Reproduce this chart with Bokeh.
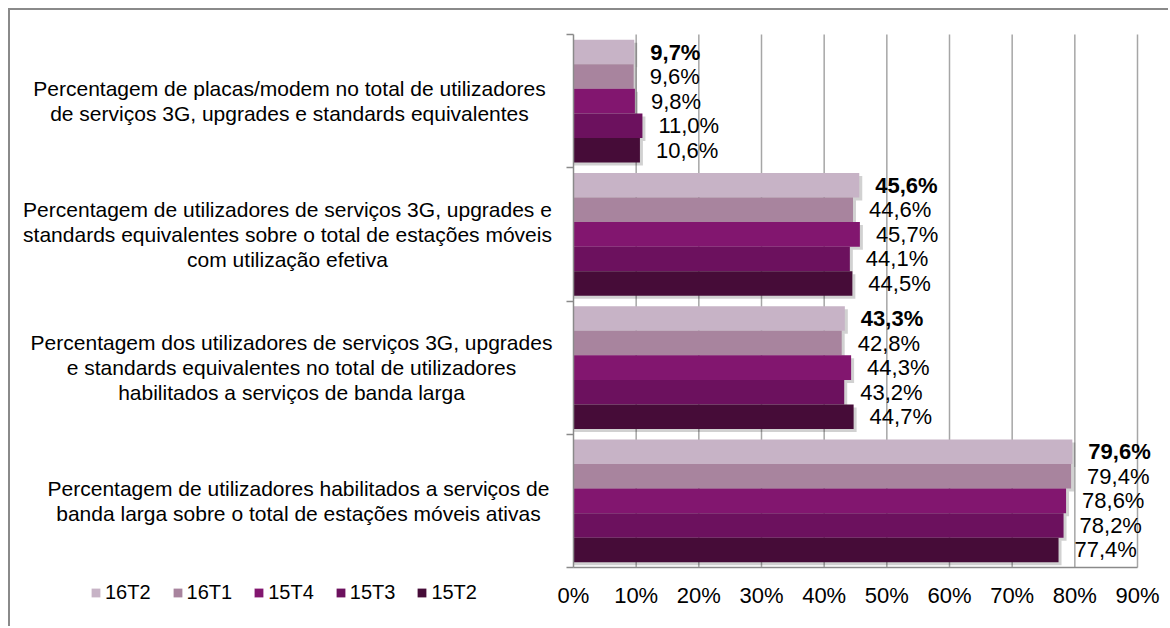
from bokeh.plotting import figure
from bokeh.models import (ColumnDataSource, Range1d, FixedTicker, Label, LabelSet,
                          Legend, LegendItem)
from bokeh.core.properties import value
from bokeh.embed import file_html
from bokeh.resources import INLINE

# ---------------- data ----------------
categories = [
    "Percentagem de placas/modem no total de utilizadores\nde serviços 3G, upgrades e standards equivalentes",
    "Percentagem de utilizadores de serviços 3G, upgrades e\nstandards equivalentes sobre o total de estações móveis\ncom utilização efetiva",
    "Percentagem dos utilizadores de serviços 3G, upgrades\ne standards equivalentes no total de utilizadores\nhabilitados a serviços de banda larga",
    "Percentagem de utilizadores habilitados a serviços de\nbanda larga sobre o total de estações móveis ativas",
]
series = ["16T2", "16T1", "15T4", "15T3", "15T2"]
values_16T2 = [9.7, 45.6, 43.3, 79.6]
values_16T1 = [9.6, 44.6, 42.8, 79.4]
values_15T4 = [9.8, 45.7, 44.3, 78.6]
values_15T3 = [11.0, 44.1, 43.2, 78.2]
values_15T2 = [10.6, 44.5, 44.7, 77.4]
series_values = [values_16T2, values_16T1, values_15T4, values_15T3, values_15T2]
colors = ["#c7b3c6", "#a8849e", "#82166f", "#6c115e", "#460c38"]
x_ticks = [0, 10, 20, 30, 40, 50, 60, 70, 80, 90]

# ---------------- layout (pixels) ----------------
FONT = "Liberation Sans"
W, H = 1160, 618            # canvas; placed at page (10, 10) after margin + border
n_cat = len(categories)
x_max = x_ticks[-1]
FRAME_L, FRAME_R = 573 - 10, 1137 - 10     # where 0% and 90% fall on the canvas
FRAME_T, FRAME_B = 34 - 10, 567 - 10       # top / bottom of the category area
sx = (FRAME_R - FRAME_L) / x_max
sy = (FRAME_B - FRAME_T) / n_cat
x_start = -FRAME_L / sx
x_end = x_start + W / sx
y_end = n_cat + FRAME_T / sy
y_start = -(H - FRAME_B) / sy
bar_h = 0.184
label_centers_px = [289, 287, 291, 298]    # page x of each category label's centre

p = figure(width=W, height=H, output_backend="svg", toolbar_location=None,
           x_range=Range1d(x_start, x_end), y_range=Range1d(y_start, y_end),
           min_border=0)
p.styles = {"margin-left": "8px", "margin-top": "8px",
            "border-left": "2px solid #8a8a8a", "border-top": "2px solid #8a8a8a"}
p.outline_line_color = None
p.background_fill_color = "white"
p.border_fill_color = "white"
p.xgrid.visible = False
p.ygrid.visible = False

# vertical grid lines over the category area
p.segment(x0=x_ticks[1:], y0=0, x1=x_ticks[1:], y1=n_cat,
          line_color="#a6a6a6", line_width=1.5)

# soft shadows (drawn first, bars cover them)
shadow_dx, shadow_dy = 3 / sx, 3 / sy
for j, vals in enumerate(series_values):
    ys = [n_cat - i - 0.5 + (2 - j) * bar_h - shadow_dy for i in range(n_cat)]
    rights = [v + shadow_dx for v in vals]
    p.hbar(y=ys, right=rights, left=0, height=bar_h, fill_color="#000000",
           fill_alpha=0.18, line_color=None)

legend_items = []
for j, (name, vals, col) in enumerate(zip(series, series_values, colors)):
    ys = [n_cat - i - 0.5 + (2 - j) * bar_h for i in range(n_cat)]
    labels = [("%.1f" % v).replace(".", ",") + "%" for v in vals]
    src = ColumnDataSource(dict(y=ys, right=vals, label=labels))
    r = p.hbar(y="y", right="right", left=0, height=bar_h, source=src,
               fill_color=col, line_color=None)
    legend_items.append(LegendItem(label=name, renderers=[r]))
    ls = LabelSet(x="right", y="y", text="label", source=src, x_offset=16,
                  text_baseline="middle", text_align="left",
                  text_font=value(FONT), text_font_size=value("22px"),
                  text_color="black",
                  text_font_style="bold" if j == 0 else "normal")
    p.add_layout(ls)

# axes (fixed inside the frame)
xa = p.xaxis[0]
xa.fixed_location = 0
xa.bounds = (0, x_max)
xa.ticker = FixedTicker(ticks=x_ticks)
xa.major_label_overrides = {t: "%d%%" % t for t in x_ticks}
xa.major_label_text_font = FONT
xa.major_label_text_font_size = "22px"
xa.major_label_text_color = "black"
xa.major_label_standoff = 15
xa.axis_line_color = "#8a8a8a"
xa.axis_line_width = 1.5
xa.major_tick_in = 0
xa.major_tick_out = 0
xa.minor_tick_line_color = None

ya = p.yaxis[0]
ya.fixed_location = 0
ya.bounds = (0, n_cat)
ya.ticker = FixedTicker(ticks=list(range(n_cat + 1)))
ya.major_label_overrides = {t: "" for t in range(n_cat + 1)}
ya.major_label_text_font_size = "0px"
ya.axis_line_color = "#8a8a8a"
ya.axis_line_width = 1.5
ya.major_tick_line_color = "#8a8a8a"
ya.major_tick_line_width = 1.5
ya.major_tick_in = 0
ya.major_tick_out = 7
ya.minor_tick_line_color = None

# category labels (centered, multi-line)
for i, cat in enumerate(categories):
    cx = (label_centers_px[i] - 10 - FRAME_L) / sx
    p.add_layout(Label(x=cx, y=n_cat - i - 0.5, text=cat,
                       text_align="center", text_baseline="middle",
                       text_font=FONT, text_font_size="21px", text_color="black",
                       text_line_height=1.1))

legend = Legend(items=legend_items, orientation="horizontal", location=(80, 24),
                glyph_width=11, glyph_height=11, label_standoff=4, spacing=21,
                padding=0, margin=0, border_line_color=None,
                background_fill_alpha=0, label_text_font=FONT,
                label_text_font_size="20px", label_text_color="black")
p.add_layout(legend)

open("out.html", "w").write(file_html(p, INLINE))
